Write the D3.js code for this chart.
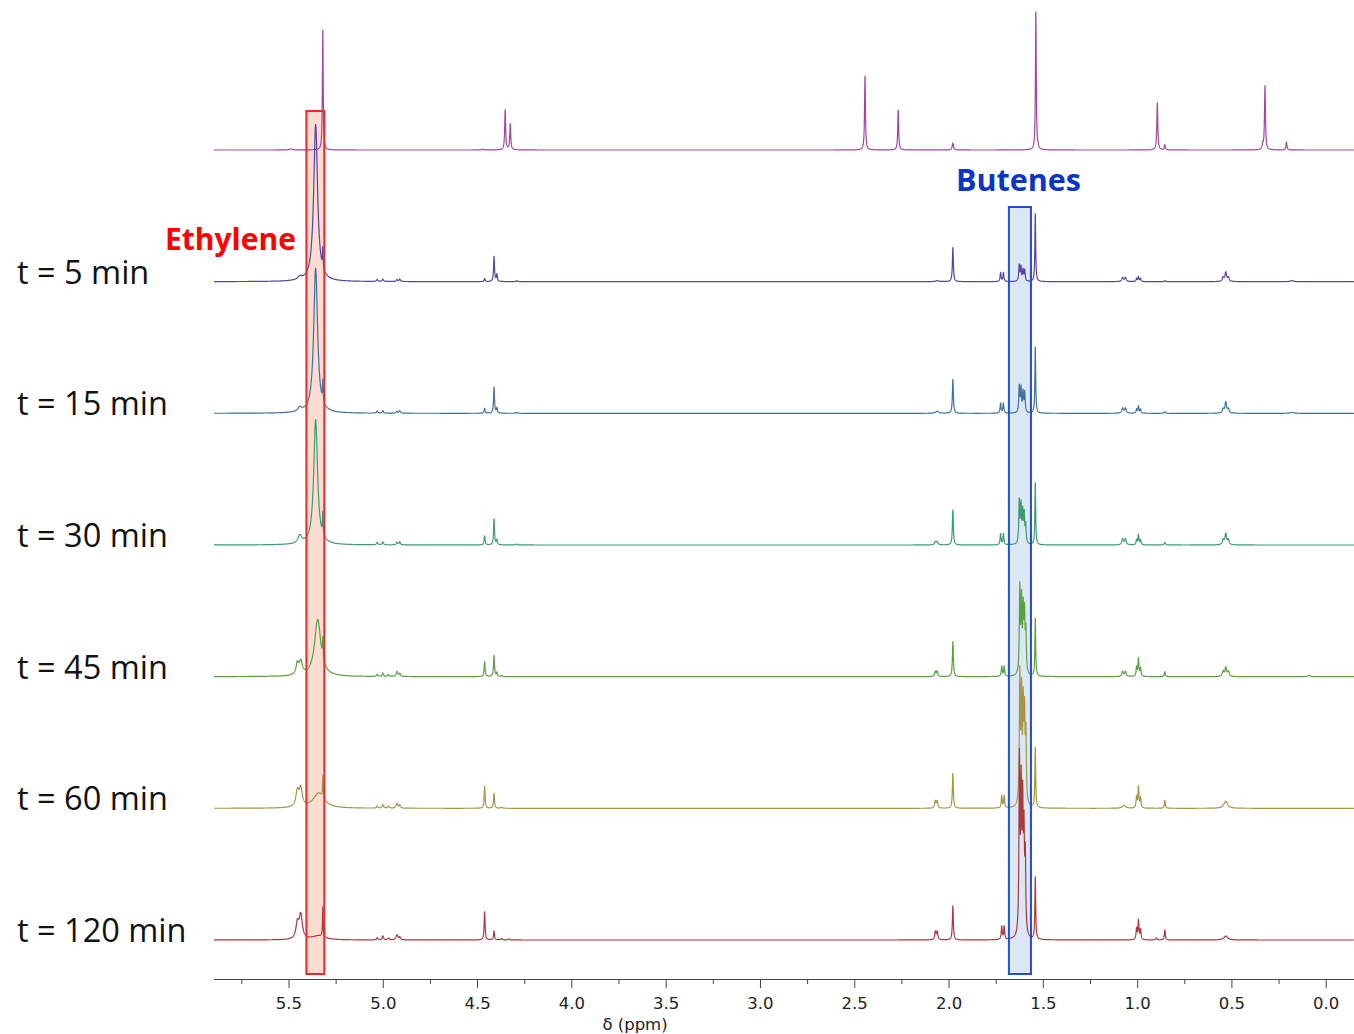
<!DOCTYPE html>
<html>
<head>
<meta charset="utf-8">
<script src="https://cdn.jsdelivr.net/npm/d3@7"></script>
<style>
  body { margin: 0; background: #fff; }
  svg { display: block; }
</style>
</head>
<body>
<div class="container"></div>
<script>
// labels for each trace, top to bottom (top trace = reference, no label)
var traceLabels = ["", "t = 5 min", "t = 15 min", "t = 30 min", "t = 45 min", "t = 60 min", "t = 120 min"];

// peak lists: [ppm, height, half width (ppm)]
var refPeaks = [
    [5.49, 1, 0.01], [5.318, 120, 0.0025], [4.47, 1, 0.004],
    [4.351, 40, 0.003], [4.324, 26, 0.003],
    [2.443, 74, 0.0028], [2.267, 40, 0.0028], [1.977, 7, 0.004],
    [1.537, 138, 0.0025], [1.525, 2, 0.004],
    [0.893, 47, 0.003], [0.853, 5, 0.003],
    [0.334, 5, 0.003], [0.322, 64, 0.003], [0.208, 8, 0.003]
];
var t5Peaks = [
    [5.44, 3, 0.012], [5.356, 157, 0.0124], [5.318, 20, 0.002],
    [5.03, 2, 0.004], [5.0, 2.5, 0.004], [4.925, 2, 0.004], [4.91, 2.5, 0.004],
    [4.46, 3, 0.003], [4.41, 25, 0.003], [4.395, 7, 0.003], [4.29, 1, 0.004],
    [2.06, 1, 0.01], [1.977, 34, 0.003], [1.724, 9, 0.003], [1.709, 9, 0.003],
    [1.625, 16, 0.003], [1.616, 14, 0.003], [1.605, 11, 0.003], [1.596, 11, 0.003],
    [1.54, 68, 0.0025],
    [1.077, 4, 0.005], [1.062, 4, 0.005], [1.003, 3, 0.003], [0.993, 5, 0.003], [0.982, 3, 0.003],
    [0.853, 1, 0.004], [0.544, 4, 0.005], [0.53, 9, 0.005], [0.516, 4, 0.005], [0.18, 1, 0.01]
];
var t15Peaks = [
    [5.44, 4, 0.012], [5.356, 145, 0.0124], [5.318, 20, 0.002],
    [5.03, 2, 0.004], [5.0, 2.5, 0.004], [4.925, 2, 0.004], [4.91, 2.5, 0.004],
    [4.46, 5, 0.003], [4.41, 26, 0.003], [4.395, 5, 0.003], [4.29, 1, 0.004],
    [2.06, 2, 0.01], [1.977, 34, 0.003], [1.724, 10, 0.003], [1.709, 10, 0.003],
    [1.625, 26, 0.003], [1.616, 24, 0.003], [1.605, 20, 0.003], [1.596, 20, 0.003],
    [1.54, 66, 0.0025],
    [1.077, 5, 0.005], [1.062, 5, 0.005], [1.003, 4, 0.003], [0.993, 7, 0.003], [0.982, 4, 0.003],
    [0.853, 1.5, 0.004], [0.544, 4, 0.005], [0.53, 11, 0.005], [0.516, 4, 0.005], [0.18, 1, 0.01]
];
var t30Peaks = [
    [5.44, 8, 0.012], [5.356, 125, 0.0124], [5.318, 22, 0.002],
    [5.03, 2.5, 0.004], [5.0, 3, 0.004], [4.925, 2.5, 0.004], [4.91, 3, 0.004],
    [4.46, 9, 0.003], [4.41, 26, 0.003], [4.395, 5, 0.003], [4.29, 1, 0.004],
    [2.07, 3, 0.005], [2.06, 3, 0.005], [1.977, 35, 0.003], [1.724, 11, 0.003], [1.709, 11, 0.003],
    [1.625, 42, 0.003], [1.616, 37, 0.003], [1.607, 30, 0.003], [1.599, 28, 0.003], [1.591, 18, 0.003],
    [1.54, 62, 0.0025],
    [1.077, 6, 0.005], [1.062, 6, 0.005], [1.003, 5, 0.003], [0.993, 10, 0.003], [0.982, 5, 0.003],
    [0.853, 2.5, 0.004], [0.544, 5, 0.005], [0.53, 11, 0.005], [0.516, 5, 0.005]
];
var t45Peaks = [
    [5.453, 11, 0.008], [5.435, 13, 0.01], [5.345, 57, 0.02], [5.318, 20, 0.002],
    [5.03, 2, 0.004], [5.0, 3.5, 0.004], [4.97, 2, 0.004], [4.925, 5, 0.005], [4.91, 3, 0.004],
    [4.46, 15, 0.003], [4.41, 21, 0.003], [4.395, 4, 0.003], [4.37, 1, 0.004],
    [2.07, 5, 0.004], [2.06, 5, 0.004], [1.977, 35, 0.003], [1.718, 10, 0.003], [1.705, 10, 0.003],
    [1.622, 85, 0.003], [1.613, 70, 0.003], [1.604, 60, 0.003], [1.597, 55, 0.003], [1.59, 40, 0.003],
    [1.54, 58, 0.0025],
    [1.077, 5, 0.005], [1.062, 5, 0.005], [1.003, 9, 0.003], [0.993, 18, 0.003], [0.982, 8, 0.003],
    [0.853, 5, 0.003], [0.544, 5, 0.005], [0.53, 9, 0.005], [0.516, 5, 0.005], [0.09, 1, 0.01]
];
var t60Peaks = [
    [5.453, 15, 0.009], [5.435, 18, 0.01], [5.34, 15, 0.035], [5.318, 22, 0.002],
    [5.03, 2, 0.004], [5.0, 3.5, 0.004], [4.97, 2, 0.004], [4.925, 5, 0.005], [4.91, 3, 0.004],
    [4.46, 22, 0.003], [4.41, 15, 0.003], [4.37, 1, 0.004],
    [2.07, 7, 0.004], [2.06, 7, 0.004], [1.977, 35, 0.003], [1.718, 12, 0.003], [1.705, 12, 0.003],
    [1.622, 128, 0.003], [1.613, 105, 0.003], [1.604, 92, 0.003], [1.597, 82, 0.003], [1.59, 66, 0.003],
    [1.54, 60, 0.0025],
    [1.07, 3, 0.01], [1.003, 11, 0.003], [0.993, 21, 0.003], [0.982, 10, 0.003],
    [0.853, 8, 0.003], [0.53, 7, 0.012]
];
var t120Peaks = [
    [5.453, 15, 0.009], [5.435, 24, 0.01], [5.34, 4, 0.04], [5.318, 30, 0.002],
    [5.03, 2, 0.004], [5.0, 4, 0.004], [4.97, 2, 0.004], [4.925, 5, 0.006], [4.91, 3, 0.004],
    [4.46, 28, 0.003], [4.41, 9, 0.003], [4.37, 1.5, 0.004], [4.33, 1, 0.004],
    [2.07, 8, 0.004], [2.06, 8, 0.004], [1.977, 34, 0.003], [1.718, 13, 0.003], [1.705, 13, 0.003],
    [1.624, 172, 0.003], [1.615, 138, 0.003], [1.607, 120, 0.003], [1.6, 92, 0.003], [1.593, 74, 0.003],
    [1.54, 62, 0.0025],
    [1.003, 11, 0.003], [0.993, 19, 0.003], [0.982, 10, 0.003], [0.898, 2, 0.004],
    [0.853, 10, 0.003], [0.53, 4, 0.012]
];
var spectra = [refPeaks, t5Peaks, t15Peaks, t30Peaks, t45Peaks, t60Peaks, t120Peaks];

// axis ticks
var majorTicks = [5.5, 5.0, 4.5, 4.0, 3.5, 3.0, 2.5, 2.0, 1.5, 1.0, 0.5, 0.0];
var minorTicks = [5.75, 5.25, 4.75, 4.25, 3.75, 3.25, 2.75, 2.25, 1.75, 1.25, 0.75, 0.25];

// highlighted regions (ppm)
var ethyleneRange = [5.405, 5.31];
var buteneRange = [1.68, 1.563];

var traceColors = ["#a1489a", "#5a43a0", "#41709c", "#3e9a74", "#5ba044", "#a29646", "#a83a40"];

var width = 1354, height = 1034;
var ppmLeft = 5.895, ppmRight = -0.15;
var step = 0.0008;

var svg = d3.select(".container").append("svg")
    .attr("width", width)
    .attr("height", height);

var x = d3.scaleLinear().domain([ppmLeft, ppmRight]).range([214, 1354]);
var base = d3.scaleLinear().domain([0, 6]).range([150, 940]);
var y = d3.scaleLinear().domain([0, 100]).range([0, -100]);

// sum of lorentzians for one peak list
function buildTrace(peaks) {
    var ppms = d3.range(Math.floor((ppmLeft - ppmRight) / step) + 1).map(function (i) {
        return ppmLeft - i * step;
    });
    peaks.forEach(function (pk) { ppms.push(pk[0]); });
    ppms.sort(function (a, b) { return b - a; });
    return ppms.map(function (p) {
        var v = 0;
        for (var k = 0; k < peaks.length; k++) {
            var d = p - peaks[k][0], w = peaks[k][2];
            v += peaks[k][1] * w * w / (d * d + w * w);
        }
        return [p, v];
    });
}

var axisY = 979;

// box fills underneath the traces
var boxes = [
    {range: ethyleneRange, top: 111, fill: "#fbdcd1", stroke: "#f02828"},
    {range: buteneRange, top: 207, fill: "#dbe7f5", stroke: "#1f4ed6"}
];
svg.selectAll(".boxFill").data(boxes).enter().append("rect")
    .attr("class", "boxFill")
    .attr("x", function (d) { return x(d.range[0]); })
    .attr("y", function (d) { return d.top; })
    .attr("width", function (d) { return x(d.range[1]) - x(d.range[0]); })
    .attr("height", function (d) { return 974 - d.top; })
    .attr("fill", function (d) { return d.fill; });

var line = d3.line()
    .x(function (d) { return x(d[0]); })
    .y(function (d) { return y(d[1]); });

svg.selectAll(".trace").data(spectra).enter().append("path")
    .attr("class", "trace")
    .attr("transform", function (d, i) { return "translate(0," + base(i) + ")"; })
    .attr("d", function (d) { return line(buildTrace(d)); })
    .attr("fill", "none")
    .attr("stroke", function (d, i) { return traceColors[i]; })
    .attr("stroke-width", 1.2)
    .attr("stroke-linejoin", "round");

// box outlines on top
svg.selectAll(".boxLine").data(boxes).enter().append("rect")
    .attr("class", "boxLine")
    .attr("x", function (d) { return x(d.range[0]); })
    .attr("y", function (d) { return d.top; })
    .attr("width", function (d) { return x(d.range[1]) - x(d.range[0]); })
    .attr("height", function (d) { return 974 - d.top; })
    .attr("fill", "none")
    .attr("stroke", function (d) { return d.stroke; })
    .attr("stroke-width", 2);

// x axis
var minorAxis = d3.axisBottom(x).tickValues(minorTicks).tickSize(5).tickSizeOuter(0).tickFormat("");
var majorAxis = d3.axisBottom(x).tickValues(majorTicks).tickSize(9).tickSizeOuter(0).tickFormat(d3.format(".1f")).tickPadding(9);

svg.append("g").attr("transform", "translate(0," + axisY + ")").call(minorAxis)
    .call(function (g) { g.selectAll("line").attr("stroke", "#444"); g.select(".domain").attr("stroke", "#444"); });
var gx = svg.append("g").attr("transform", "translate(0," + axisY + ")").call(majorAxis);
gx.select(".domain").attr("stroke", "#444");
gx.selectAll("line").attr("stroke", "#444");
gx.selectAll("text")
    .attr("fill", "#222")
    .style("font-family", "'DejaVu Sans', Verdana, sans-serif")
    .style("font-size", "16.5px");

svg.append("text")
    .attr("x", 635)
    .attr("y", 1030)
    .attr("text-anchor", "middle")
    .attr("fill", "#222")
    .style("font-family", "'DejaVu Sans', Verdana, sans-serif")
    .style("font-size", "16.5px")
    .text("δ (ppm)");

// time labels
svg.selectAll(".tLabel").data(traceLabels).enter().append("text")
    .attr("class", "tLabel")
    .attr("x", 17)
    .attr("y", function (d, i) { return base(i) + 2; })
    .style("font-family", "'Open Sans', sans-serif")
    .style("font-size", "32.5px")
    .attr("fill", "#111")
    .text(function (d) { return d; });

svg.append("text")
    .attr("x", 165)
    .attr("y", 250)
    .style("font-family", "'Open Sans', sans-serif")
    .style("font-weight", "bold")
    .style("font-size", "30px")
    .attr("fill", "#ff0000")
    .text("Ethylene");

svg.append("text")
    .attr("x", 956)
    .attr("y", 191)
    .style("font-family", "'Open Sans', sans-serif")
    .style("font-weight", "bold")
    .style("font-size", "30.5px")
    .attr("fill", "#0b35c9")
    .text("Butenes");
</script>
</body>
</html>
